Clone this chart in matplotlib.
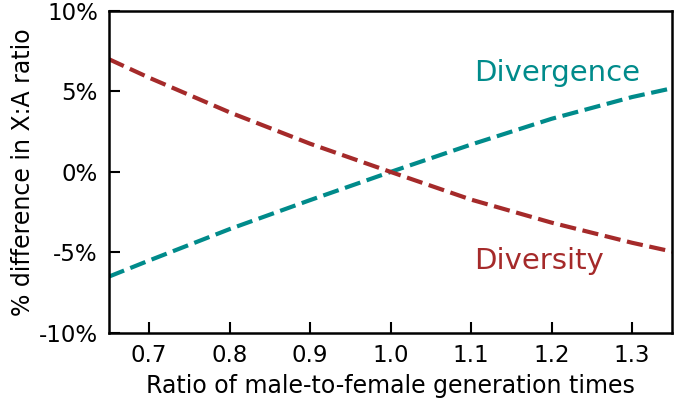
import matplotlib
matplotlib.use("Agg")
import matplotlib.pyplot as plt
from matplotlib.ticker import FuncFormatter

ratio = [0.65, 0.7, 0.8, 0.9, 1.0, 1.1, 1.2, 1.3, 1.35]
divergence = [-6.5, -5.5, -3.55, -1.75, 0.0, 1.7, 3.3, 4.65, 5.2]
diversity = [7.0, 5.85, 3.7, 1.75, 0.0, -1.72, -3.15, -4.4, -4.95]

x_ticks = [0.7, 0.8, 0.9, 1.0, 1.1, 1.2, 1.3]
y_ticks = [-10, -5, 0, 5, 10]

teal = "#008B8B"
brown = "#A52A2A"

fig = plt.figure(figsize=(6.77, 4.05), dpi=100)
ax = fig.add_axes([0.161, 0.178, 0.832, 0.795])

ax.plot(ratio, divergence, color=teal, lw=3, dashes=(3.9, 1.6))
ax.plot(ratio, diversity, color=brown, lw=3, dashes=(3.9, 1.6))

ax.set_xlim(0.65, 1.35)
ax.set_ylim(-10, 10)
ax.set_xticks(x_ticks)
ax.set_xticklabels([f"{t:.1f}" for t in x_ticks])
ax.set_yticks(y_ticks)
ax.yaxis.set_major_formatter(FuncFormatter(lambda v, p: f"{int(v)}%"))

ax.tick_params(direction="in", length=8, width=1.5, labelsize=16.5, pad=8)
for s in ax.spines.values():
    s.set_linewidth(1.8)

ax.set_xlabel("Ratio of male-to-female generation times", fontsize=17, labelpad=5)
ax.set_ylabel("% difference in X:A ratio", fontsize=17, labelpad=3)

ax.text(1.1035, 6.15, "Divergence", color=teal, fontsize=21, ha="left", va="center")
ax.text(1.1035, -5.56, "Diversity", color=brown, fontsize=21, ha="left", va="center")

fig.savefig("out.png", dpi=100)
